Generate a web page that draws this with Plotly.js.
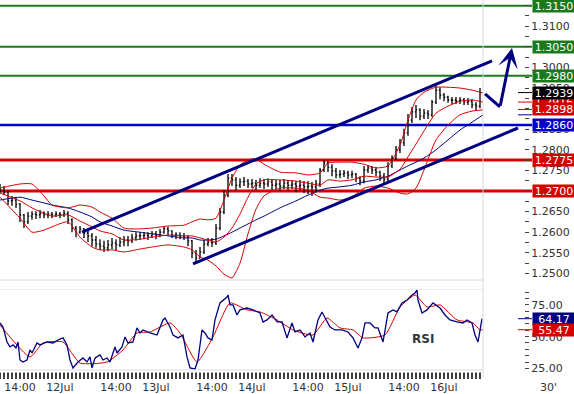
<!DOCTYPE html>
<html><head><meta charset="utf-8">
<script src="https://cdn.plot.ly/plotly-3.0.1.min.js"></script>
<style>html,body{margin:0;padding:0;background:#fff}#chart{width:574px;height:394px}</style>
</head><body><div id="chart"></div>
<script>
// ---- price bars (30' chart, sampled hourly; x = hours from start) ----
const opens=[1.2707,1.2702,1.2697,1.2676,1.2678,1.2668,1.2642,1.2625,1.2639,1.2644,1.2642,1.2646,1.2642,1.2644,1.2642,1.2644,1.2642,1.2646,1.2630,1.2610,1.2600,1.2608,1.2598,1.2591,1.2581,1.2571,1.2566,1.2562,1.2569,1.2574,1.2569,1.2576,1.2581,1.2579,1.2586,1.2591,1.2591,1.2593,1.2591,1.2596,1.2593,1.2600,1.2608,1.2603,1.2593,1.2593,1.2591,1.2588,1.2579,1.2549,1.2537,1.2552,1.2571,1.2576,1.2574,1.2610,1.2649,1.2690,1.2731,1.2727,1.2714,1.2722,1.2724,1.2717,1.2719,1.2714,1.2719,1.2717,1.2722,1.2714,1.2717,1.2712,1.2719,1.2714,1.2717,1.2712,1.2714,1.2710,1.2712,1.2710,1.2717,1.2751,1.2768,1.2758,1.2749,1.2739,1.2741,1.2744,1.2739,1.2741,1.2731,1.2724,1.2751,1.2756,1.2751,1.2746,1.2736,1.2729,1.2761,1.2780,1.2800,1.2817,1.2841,1.2872,1.2892,1.2897,1.2882,1.2889,1.2885,1.2916,1.2945,1.2933,1.2928,1.2921,1.2921,1.2918,1.2921,1.2916,1.2918,1.2909,1.2906];
const highs=[1.2717,1.2712,1.2702,1.2688,1.2685,1.2671,1.2644,1.2649,1.2651,1.2651,1.2654,1.2651,1.2651,1.2649,1.2651,1.2649,1.2654,1.2651,1.2634,1.2615,1.2615,1.2610,1.2605,1.2598,1.2591,1.2583,1.2579,1.2581,1.2586,1.2583,1.2588,1.2591,1.2591,1.2596,1.2600,1.2600,1.2600,1.2600,1.2603,1.2603,1.2608,1.2615,1.2613,1.2605,1.2600,1.2600,1.2598,1.2593,1.2581,1.2557,1.2564,1.2581,1.2586,1.2586,1.2620,1.2659,1.2702,1.2741,1.2741,1.2734,1.2731,1.2734,1.2729,1.2729,1.2727,1.2731,1.2729,1.2731,1.2729,1.2727,1.2727,1.2729,1.2727,1.2727,1.2724,1.2727,1.2724,1.2724,1.2722,1.2727,1.2756,1.2775,1.2773,1.2765,1.2756,1.2751,1.2751,1.2749,1.2749,1.2744,1.2736,1.2761,1.2763,1.2761,1.2758,1.2749,1.2744,1.2770,1.2787,1.2809,1.2826,1.2851,1.2887,1.2904,1.2909,1.2901,1.2899,1.2897,1.2921,1.2957,1.2952,1.2938,1.2931,1.2928,1.2928,1.2928,1.2926,1.2926,1.2923,1.2916,1.2950];
const lows=[1.2695,1.2690,1.2666,1.2664,1.2659,1.2625,1.2610,1.2620,1.2630,1.2632,1.2634,1.2634,1.2634,1.2634,1.2637,1.2634,1.2637,1.2620,1.2600,1.2588,1.2596,1.2586,1.2576,1.2566,1.2562,1.2557,1.2552,1.2554,1.2559,1.2557,1.2564,1.2566,1.2566,1.2574,1.2579,1.2581,1.2583,1.2581,1.2586,1.2583,1.2588,1.2596,1.2593,1.2586,1.2583,1.2583,1.2581,1.2566,1.2537,1.2525,1.2537,1.2547,1.2566,1.2564,1.2569,1.2605,1.2644,1.2685,1.2712,1.2702,1.2707,1.2712,1.2707,1.2707,1.2702,1.2707,1.2705,1.2710,1.2702,1.2705,1.2700,1.2705,1.2702,1.2705,1.2697,1.2702,1.2695,1.2693,1.2688,1.2697,1.2710,1.2746,1.2746,1.2736,1.2731,1.2731,1.2734,1.2729,1.2731,1.2722,1.2714,1.2719,1.2744,1.2741,1.2736,1.2724,1.2719,1.2724,1.2756,1.2775,1.2792,1.2809,1.2834,1.2865,1.2877,1.2872,1.2875,1.2875,1.2880,1.2911,1.2923,1.2918,1.2914,1.2911,1.2911,1.2911,1.2909,1.2909,1.2901,1.2894,1.2901];
const closes=[1.2702,1.2697,1.2676,1.2678,1.2668,1.2642,1.2625,1.2639,1.2644,1.2642,1.2646,1.2642,1.2644,1.2642,1.2644,1.2642,1.2646,1.2630,1.2610,1.2600,1.2608,1.2598,1.2591,1.2581,1.2571,1.2566,1.2562,1.2569,1.2574,1.2569,1.2576,1.2581,1.2579,1.2586,1.2591,1.2591,1.2593,1.2591,1.2596,1.2593,1.2600,1.2608,1.2603,1.2593,1.2593,1.2591,1.2588,1.2579,1.2549,1.2537,1.2552,1.2571,1.2576,1.2574,1.2610,1.2649,1.2690,1.2731,1.2727,1.2714,1.2722,1.2724,1.2717,1.2719,1.2714,1.2719,1.2717,1.2722,1.2714,1.2717,1.2712,1.2719,1.2714,1.2717,1.2712,1.2714,1.2710,1.2712,1.2710,1.2717,1.2751,1.2768,1.2758,1.2749,1.2739,1.2741,1.2744,1.2739,1.2741,1.2731,1.2724,1.2751,1.2756,1.2751,1.2746,1.2736,1.2729,1.2761,1.2780,1.2800,1.2817,1.2841,1.2872,1.2892,1.2897,1.2882,1.2889,1.2885,1.2916,1.2945,1.2933,1.2928,1.2921,1.2921,1.2918,1.2921,1.2916,1.2918,1.2909,1.2906,1.2939];
const hours = opens.map((_, i) => i);

// ---- Bollinger bands and moving average ----
const bandHours=[0,5,8,11,13,17,20,23,25,28,31,35,38,42,46,48,50,52,54,56,58,60,62,64,66,70,74,77,80,82,85,88,91,94,97,100,102,104,106,109,112,115,118,120.75];
const bbUpper=[1.2707,1.2717,1.2717,1.2688,1.2666,1.2659,1.2666,1.2661,1.2649,1.2634,1.2610,1.2608,1.2610,1.2615,1.2617,1.2625,1.2632,1.2630,1.2634,1.2678,1.2731,1.2763,1.2775,1.2778,1.2765,1.2746,1.2744,1.2739,1.2744,1.2768,1.2770,1.2770,1.2765,1.2756,1.2761,1.2812,1.2872,1.2921,1.2940,1.2952,1.2952,1.2950,1.2945,1.2938];
const bbMiddle=[1.2695,1.2676,1.2659,1.2646,1.2639,1.2642,1.2627,1.2613,1.2603,1.2596,1.2581,1.2583,1.2588,1.2593,1.2591,1.2591,1.2586,1.2581,1.2576,1.2588,1.2610,1.2644,1.2685,1.2717,1.2727,1.2727,1.2724,1.2719,1.2714,1.2727,1.2724,1.2727,1.2736,1.2734,1.2734,1.2753,1.2783,1.2814,1.2846,1.2889,1.2906,1.2918,1.2921,1.2916];
const bbLower=[1.2685,1.2634,1.2600,1.2605,1.2613,1.2625,1.2588,1.2564,1.2557,1.2557,1.2552,1.2559,1.2564,1.2569,1.2564,1.2557,1.2540,1.2532,1.2518,1.2498,1.2489,1.2525,1.2596,1.2656,1.2688,1.2707,1.2707,1.2702,1.2685,1.2683,1.2678,1.2685,1.2707,1.2712,1.2707,1.2695,1.2693,1.2707,1.2751,1.2824,1.2860,1.2885,1.2894,1.2897];
const maLong=[1.2678,1.2685,1.2678,1.2671,1.2666,1.2659,1.2649,1.2637,1.2625,1.2615,1.2605,1.2600,1.2596,1.2591,1.2586,1.2586,1.2581,1.2581,1.2583,1.2591,1.2600,1.2610,1.2620,1.2630,1.2639,1.2659,1.2676,1.2690,1.2702,1.2707,1.2710,1.2714,1.2722,1.2727,1.2736,1.2751,1.2761,1.2770,1.2780,1.2800,1.2824,1.2848,1.2867,1.2885];

// ---- RSI ----
const rsiHours=[0,0.75,1.75,2.5,3.25,4,4.5,5,5.75,6.75,7.5,8,9.25,10,11.75,13.25,14.5,15.75,16.75,17.5,18.25,19.5,20.75,21.75,22.5,23,23.75,25,25.75,26.75,27.5,28.75,29.25,30.5,31.25,32,33.25,34.25,35,35.75,37.5,39.25,40.75,41.25,42.5,43.25,44.5,45.75,46.75,47.5,48.75,49.5,50.5,51.25,52,53,53.75,55,56.75,57,57.5,58.25,59.25,60,61.75,63.25,65,65.75,66.75,68,69.25,70.5,71.75,73,73.75,75,76.25,77.5,78.25,79.5,80.5,81.25,82.5,83.75,85.5,87,88.25,89.5,90.5,91.25,92.5,93.75,94.5,95.75,97,98.25,99.25,100.5,101.75,103,103.75,104.25,104.5,105.5,106.75,108.25,110,111.25,112.5,114.25,115.75,116.75,118,118.75,119.5,120.5];
const rsiValues=[60.8,57.6,45.8,41.9,43.5,41.1,45.8,31.6,30.0,31.6,39.5,37.1,45.0,43.5,45.8,45.0,47.4,49.0,43.5,31.6,25.3,30.0,33.2,30.0,34.0,25.3,33.2,35.6,31.6,33.2,30.0,41.9,37.1,41.9,49.8,45.0,45.8,56.9,52.9,55.3,52.9,51.3,63.2,64.7,57.6,51.3,49.0,51.3,34.0,25.3,24.5,31.6,55.3,52.9,49.0,47.4,63.2,76.6,81.3,82.9,75.0,75.0,67.1,71.1,72.6,71.1,68.7,61.6,63.2,67.1,61.6,61.6,49.0,60.8,53.7,55.3,49.8,52.9,45.8,63.2,69.5,64.7,57.6,55.3,55.3,53.7,49.0,41.1,49.0,60.8,60.8,56.9,56.9,45.8,68.7,71.1,69.5,76.6,78.9,82.9,84.5,86.8,78.9,68.7,71.1,76.6,72.6,67.1,63.2,61.6,60.8,63.2,60.8,51.3,45.8,64.17];
const rsiMaHours=[0,7.5,10.75,15.75,20,26.75,30.75,34.25,37.5,42.5,45,49.25,53.25,57.5,61.75,65,69.25,73.25,78.25,81.75,85,88.25,90.75,96.25,100,103.75,106.75,110,114.25,118.25,120,120.75];
const rsiMaValues=[59.2,34.0,45.0,45.8,29.2,30.0,39.5,52.9,53.7,60.8,52.9,30.0,49.8,76.6,71.1,69.5,63.2,55.3,51.3,64.7,56.9,55.3,49.0,51.3,73.4,82.9,73.4,75.0,63.2,60.8,55.3,55.47];

// ---- levels, channel, projection, labels ----
const greenLevels=[1.3150,1.3050,1.2980];
const blueLevels=[1.2860];
const redLevels=[1.2775,1.2700];
const channelUpper={t:[20.5,123],p:[1.2600,1.3016]};
const channelLower={t:[48.25,129.5],p:[1.2523,1.2853]};
const projection={t:[121.25,125,128],p:[1.2936,1.2904,1.3047]};
const lastPrice=1.2939, lastMiddle=1.2916, lastLower=1.2898, lastMa=1.2885;
const lastRsi=64.17, lastRsiMa=55.47;
const tickLabels=['14:00','12Jul','14:00','13Jul','14:00','14Jul','14:00','15Jul','14:00','16Jul'];
const tickHours=[5,15,29,39,53,63,77,87,101,111];

const axisEnd=143.5;           // hours across the full 574px width
const dataEnd=120.75;          // right edge of the chart frame
const markStart=129.5, boxStart=133;
const rsiFloor=23.7, rsiTop=87.6, rsiAxisMin=16.6, rulerLevel=18.4; // ruler row below the RSI panel floor
const P = h => h/axisEnd;

const navy='#000080', red='#D40000', green='#1A7A1A', blue='#0000CC', frame='#D5DAE3';
const FONT='DejaVu Sans, Verdana, sans-serif';

// price tick values (those under a level box are covered in the reference)
const levelSet=[...greenLevels,...blueLevels,...redLevels].map(v=>v.toFixed(4));
const priceTicks=[];
for(let k=0;k<=13;k++){const v=+(1.25+k*0.005).toFixed(4); if(!levelSet.includes(v.toFixed(4))) priceTicks.push(v);}
// RSI ticks every 5, labelled every 25
const rsiTicks=[], rsiTickText=[];
for(let v=25;v<=85;v+=5){rsiTicks.push(v); rsiTickText.push(v%25===0?v.toFixed(2):'');}

const traces=[
  {type:'scatter',mode:'lines',x:bandHours,y:maLong,line:{color:navy,width:1,shape:'spline',smoothing:0.6},hoverinfo:'skip'},
  {type:'scatter',mode:'lines',x:bandHours,y:bbUpper,line:{color:red,width:1,shape:'spline',smoothing:0.6},hoverinfo:'skip'},
  {type:'scatter',mode:'lines',x:bandHours,y:bbMiddle,line:{color:red,width:1,shape:'spline',smoothing:0.6},hoverinfo:'skip'},
  {type:'scatter',mode:'lines',x:bandHours,y:bbLower,line:{color:red,width:1,shape:'spline',smoothing:0.6},hoverinfo:'skip'},
  {type:'ohlc',x:hours,open:opens,high:highs,low:lows,close:closes,tickwidth:0.3,
   increasing:{line:{color:'#000',width:1.3}},decreasing:{line:{color:'#000',width:1.3}},hoverinfo:'skip'},
  {type:'scatter',mode:'lines',x:rsiMaHours,y:rsiMaValues,xaxis:'x2',yaxis:'y2',line:{color:red,width:1,shape:'spline',smoothing:0.5},hoverinfo:'skip'},
  {type:'scatter',mode:'lines',x:rsiHours,y:rsiValues,xaxis:'x2',yaxis:'y2',line:{color:navy,width:1.3},hoverinfo:'skip'},
  // hourly ruler ticks under the RSI panel (one per bar)
  {type:'scatter',mode:'markers',x:hours,y:hours.map(()=>rulerLevel),xaxis:'x2',yaxis:'y2',
   marker:{symbol:'line-ns-open',size:6,color:'#111',line:{width:1.6,color:'#111'}},hoverinfo:'skip'}
];

const shapes=[];
const hline=(p,c,w)=>shapes.push({type:'line',layer:'below',xref:'paper',yref:'y',x0:0,x1:P(boxStart),y0:p,y1:p,line:{color:c,width:w}});
greenLevels.forEach(p=>hline(p,green,2));
blueLevels.forEach(p=>hline(p,blue,2.5));
redLevels.forEach(p=>hline(p,red,3));
// frame lines
shapes.push({type:'line',xref:'paper',yref:'paper',x0:P(dataEnd),x1:P(dataEnd),y0:1,y1:0.004,line:{color:frame,width:1}});
shapes.push({type:'line',xref:'paper',yref:'paper',x0:0,x1:P(dataEnd),y0:0.26121,y1:0.26121,line:{color:frame,width:1}});
shapes.push({type:'line',xref:'paper',yref:'y2',x0:0,x1:P(dataEnd),y0:rsiTop,y1:rsiTop,line:{color:frame,width:1}});
shapes.push({type:'line',xref:'paper',yref:'y2',x0:0,x1:P(dataEnd),y0:rsiFloor,y1:rsiFloor,line:{color:frame,width:1}});
// channel
[channelUpper,channelLower].forEach(c=>shapes.push({type:'line',xref:'x',yref:'y',x0:c.t[0],x1:c.t[1],y0:c.p[0],y1:c.p[1],line:{color:navy,width:3}}));
shapes.push({type:'line',xref:'x',yref:'y',x0:projection.t[0],x1:projection.t[1],y0:projection.p[0],y1:projection.p[1],line:{color:navy,width:3}});
// last-value markers
const mark=(p,c,yr)=>shapes.push({type:'line',xref:'paper',yref:yr,x0:P(markStart),x1:P(boxStart),y0:p,y1:p,line:{color:c,width:1}});
mark(lastPrice,'#000','y'); mark(lastMiddle,red,'y'); mark(lastLower,red,'y'); mark(lastMa,navy,'y');
mark(lastRsi,navy,'y2'); mark(lastRsiMa,red,'y2');

const annotations=[];
const box=(v,c,yr,txt)=>annotations.push({xref:'paper',yref:yr,x:P(boxStart),y:v,xanchor:'left',yanchor:'middle',
  text:txt,showarrow:false,bgcolor:c,font:{family:FONT,size:11,color:'#fff'},width:40,height:10,borderpad:1,align:'center'});
greenLevels.forEach(p=>box(p,green,'y',p.toFixed(4)));
blueLevels.forEach(p=>box(p,blue,'y',p.toFixed(4)));
redLevels.forEach(p=>box(p,red,'y',p.toFixed(4)));
box(lastMiddle,red,'y',lastMiddle.toFixed(4));
box(lastLower,red,'y',lastLower.toFixed(4));
box(lastPrice,'#000','y',lastPrice.toFixed(4));
box(lastRsi,navy,'y2',lastRsi.toFixed(2));
box(lastRsiMa,red,'y2',lastRsiMa.toFixed(2));
annotations.push({xref:'x',yref:'y',axref:'x',ayref:'y',x:projection.t[2],y:projection.p[2],ax:projection.t[1],ay:projection.p[1],
  text:'',showarrow:true,arrowhead:3,arrowsize:1.1,arrowwidth:3,arrowcolor:navy});
annotations.push({xref:'x2',yref:'y2',x:105.75,y:48.3,text:'<b>RSI</b>',showarrow:false,font:{family:FONT,size:12,color:'#2F3640'}});
annotations.push({xref:'paper',yref:'paper',x:P(137),y:-0.0237,text:"30'",showarrow:false,xanchor:'center',yanchor:'middle',font:{family:FONT,size:11,color:'#333'}});

const layout={
  width:574,height:394,margin:{l:0,r:0,t:0,b:15},
  paper_bgcolor:'#fff',plot_bgcolor:'#fff',showlegend:false,
  font:{family:FONT,size:11,color:'#333'},
  xaxis:{domain:[0,1],range:[0,axisEnd],anchor:'y',showticklabels:false,showgrid:false,zeroline:false,showline:false,ticks:'',rangeslider:{visible:false},fixedrange:true},
  xaxis2:{domain:[0,1],range:[0,axisEnd],anchor:'y2',showgrid:false,zeroline:false,showline:false,
    tickmode:'array',tickvals:tickHours,ticktext:tickLabels,ticks:'',
    tickfont:{family:FONT,size:11,color:'#333'}},
  yaxis:{domain:[0.26121,1],range:[1.24839,1.31638],anchor:'free',position:0.9129,side:'right',
    tickmode:'array',tickvals:priceTicks,tickformat:'.4f',ticks:'outside',ticklen:4,tickcolor:'#444',
    showgrid:false,zeroline:false,showline:false,tickfont:{family:FONT,size:11,color:'#333'},
    minor:{tickmode:'linear',tick0:1.25,dtick:0.0025,ticks:'outside',ticklen:4,tickcolor:'#444'}},
  yaxis2:{domain:[0,0.23747],range:[rsiAxisMin,rsiTop],anchor:'free',position:0.9129,side:'right',
    tickmode:'array',tickvals:rsiTicks,ticktext:rsiTickText,ticks:'outside',ticklen:4,tickcolor:'#444',
    showgrid:false,zeroline:false,showline:false,tickfont:{family:FONT,size:11,color:'#333'}},
  shapes:shapes,annotations:annotations
};
Plotly.newPlot('chart',traces,layout,{staticPlot:true,displayModeBar:false});
</script></body></html>
